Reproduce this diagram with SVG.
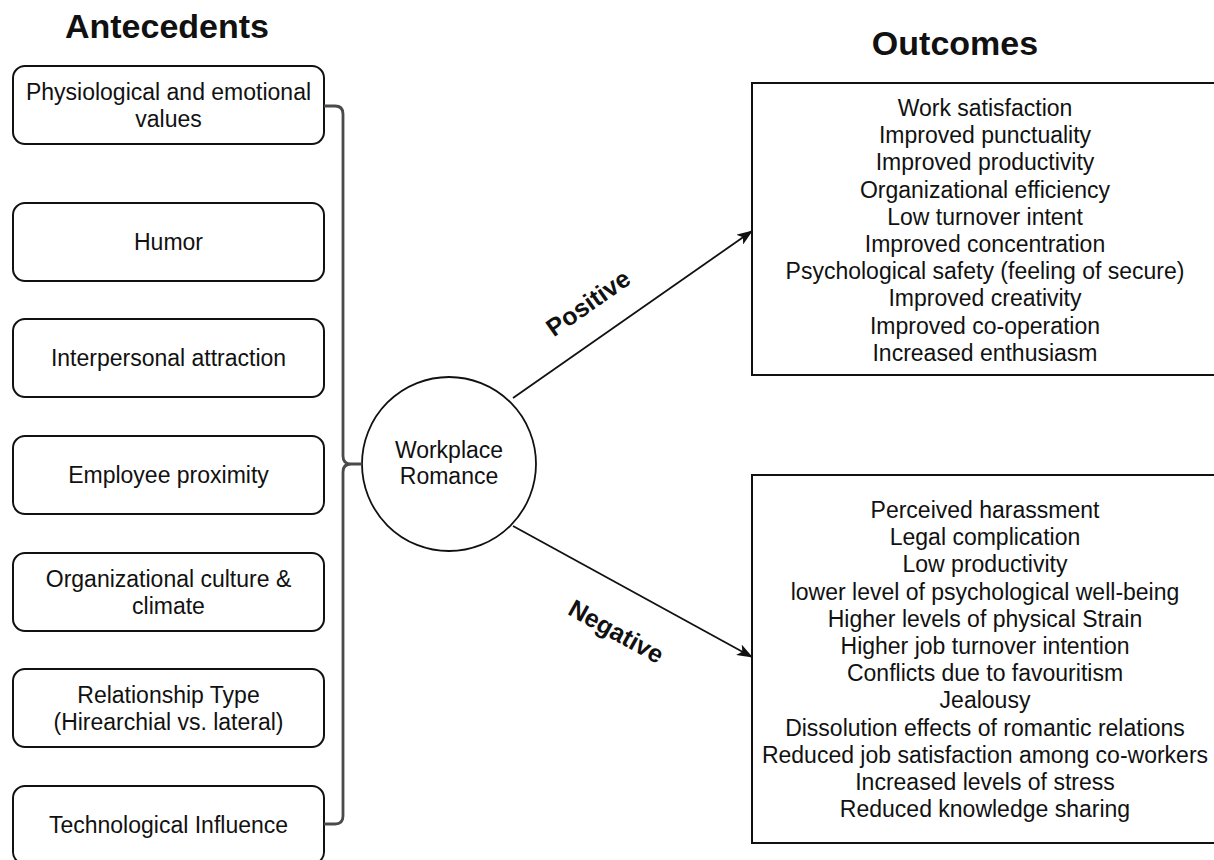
<svg xmlns="http://www.w3.org/2000/svg" width="1214" height="860" viewBox="0 0 1214 860">
<style>
.title{font-family:"Liberation Sans",Arial,sans-serif;font-size:34px;font-weight:bold;fill:#111;text-anchor:middle}
.t{font-family:"Liberation Sans",Arial,sans-serif;font-size:23px;fill:#111;text-anchor:middle}
.lab{font-family:"Liberation Sans",Arial,sans-serif;font-size:25px;font-weight:bold;fill:#111;text-anchor:middle}
.box{fill:#fff;stroke:#111;stroke-width:2}
.conn{fill:none;stroke:#111;stroke-width:1.8}
.brace{fill:none;stroke:#4a4a4a;stroke-width:2.8}
</style>
<defs>
<marker id="arr" viewBox="0 0 16 12" refX="15" refY="6" markerWidth="16" markerHeight="12" markerUnits="userSpaceOnUse" orient="auto">
<path d="M0,0 L16,6 L0,12 L4,6 Z" fill="#111"/>
</marker>
</defs>
<rect width="1214" height="860" fill="#fff"/>
<text class="title" x="167" y="38">Antecedents</text>
<text class="title" x="955" y="55">Outcomes</text>

<g id="a1"><rect class="box" x="13" y="66" width="311" height="78" rx="12"/><text class="t" x="168.5" y="100">Physiological and emotional</text><text class="t" x="168.5" y="127">values</text></g>
<g id="a2"><rect class="box" x="13" y="203" width="311" height="78" rx="12"/><text class="t" x="168.5" y="250">Humor</text></g>
<g id="a3"><rect class="box" x="13" y="319" width="311" height="78" rx="12"/><text class="t" x="168.5" y="366">Interpersonal attraction</text></g>
<g id="a4"><rect class="box" x="13" y="436" width="311" height="78" rx="12"/><text class="t" x="168.5" y="483">Employee proximity</text></g>
<g id="a5"><rect class="box" x="13" y="553" width="311" height="78" rx="12"/><text class="t" x="168.5" y="587">Organizational culture &amp;</text><text class="t" x="168.5" y="614">climate</text></g>
<g id="a6"><rect class="box" x="13" y="669" width="311" height="78" rx="12"/><text class="t" x="168.5" y="703">Relationship Type</text><text class="t" x="168.5" y="730">(Hirearchial vs. lateral)</text></g>
<g id="a7"><rect class="box" x="13" y="786" width="311" height="78" rx="12"/><text class="t" x="168.5" y="833">Technological Influence</text></g>

<g id="center"><circle cx="449" cy="464" r="87" fill="#fff" stroke="#111" stroke-width="1.8"/><text class="t" x="449" y="458">Workplace</text><text class="t" x="449" y="484">Romance</text></g>

<g id="pos"><rect class="box" x="752" y="83" width="470" height="292"/>
<text class="t" x="985" y="116">Work satisfaction</text>
<text class="t" x="985" y="143.2">Improved punctuality</text>
<text class="t" x="985" y="170.4">Improved productivity</text>
<text class="t" x="985" y="197.6">Organizational efficiency</text>
<text class="t" x="985" y="224.8">Low turnover intent</text>
<text class="t" x="985" y="252">Improved concentration</text>
<text class="t" x="985" y="279.2">Psychological safety (feeling of secure)</text>
<text class="t" x="985" y="306.4">Improved creativity</text>
<text class="t" x="985" y="333.6">Improved co-operation</text>
<text class="t" x="985" y="360.8">Increased enthusiasm</text>
</g>
<g id="neg"><rect class="box" x="752" y="475" width="470" height="368"/>
<text class="t" x="985" y="518">Perceived harassment</text>
<text class="t" x="985" y="545.2">Legal complication</text>
<text class="t" x="985" y="572.4">Low productivity</text>
<text class="t" x="985" y="599.6">lower level of psychological well-being</text>
<text class="t" x="985" y="626.8">Higher levels of physical Strain</text>
<text class="t" x="985" y="654">Higher job turnover intention</text>
<text class="t" x="985" y="681.2">Conflicts due to favouritism</text>
<text class="t" x="985" y="708.4">Jealousy</text>
<text class="t" x="985" y="735.6">Dissolution effects of romantic relations</text>
<text class="t" x="985" y="762.8">Reduced job satisfaction among co-workers</text>
<text class="t" x="985" y="790">Increased levels of stress</text>
<text class="t" x="985" y="817.2">Reduced knowledge sharing</text>
</g>

<g id="connectors">
<path class="brace" d="M324,106 H335 Q343,106 343,114 V456 Q343,464 351,464 H362 M351,464 Q343,464 343,472 V816 Q343,824 335,824 H324"/>
<line class="conn" x1="513" y1="398" x2="752" y2="231" marker-end="url(#arr)"/>
<line class="conn" x1="513" y1="526" x2="752" y2="657" marker-end="url(#arr)"/>
<text class="lab" transform="translate(593,310) rotate(-35)">Positive</text>
<text class="lab" transform="translate(612,639) rotate(29)">Negative</text>
</g>
</svg>
